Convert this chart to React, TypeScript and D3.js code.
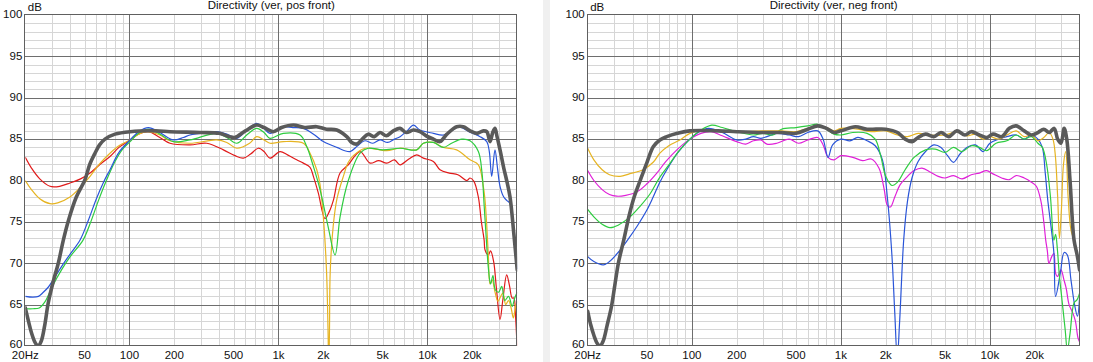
import React from 'react';
import * as d3 from 'd3';

type Pt = [number, number];

// ---- axis ticks ----
const freqTicks = [20, 50, 100, 200, 500, 1000, 2000, 5000, 10000, 20000];
const freqTickLabels = ['20Hz', '50', '100', '200', '500', '1k', '2k', '5k', '10k', '20k'];
const dbTicks = [100, 95, 90, 85, 80, 75, 70, 65, 60];
const titles = ['Directivity (ver, pos front)', 'Directivity (ver, neg front)'];

// ---- left panel (pos front) ----
const posGray: Pt[] = [[20,64.6],[21,63],[22,61.6],[23.3,60.4],[24.4,60],[25.6,60.6],[27,62.5],[28.5,65.2],[30.8,67.8],[33.3,70],[36,72.8],[39,75.2],[44,78],[50.3,80.1],[54,81.9],[58.7,83.3],[63,84.3],[68.5,85],[80,85.6],[101,85.9],[150,86],[187,85.9],[300,85.8],[400,85.7],[470,85.3],[510,85.2],[600,86],[714,86.7],[800,86.4],[923,85.9],[1050,86.4],[1259,86.7],[1500,86.4],[1807,86.5],[2100,86.2],[2461,86.1],[2871,85.3],[3100,84.6],[3350,84.4],[3650,85],[4000,85.6],[4400,85.3],[4800,85.8],[5300,85.4],[5900,86],[6546,86.3],[7200,85.8],[8040,86.1],[8912,85.9],[9800,85.4],[10950,85],[12130,84.7],[13500,85.6],[15700,86.5],[17400,86.5],[19300,86],[21400,85.7],[23700,86],[25000,85.9],[26300,84.7],[27400,85.8],[28370,86.3],[29300,85.3],[30680,83.7],[32500,81.5],[34000,80],[35800,78],[38000,73.5],[40000,69.2]];
const posBlue: Pt[] = [[20,66],[22.5,65.9],[24.5,66],[26.1,66.4],[28.5,67.1],[30.8,68],[35,69.6],[40,71.1],[46.6,72.8],[53,75.2],[60,77.8],[67,79.8],[74,81.3],[85,83.4],[101,84.9],[115,85.9],[134,86.4],[160,85.8],[197,84.9],[230,85.2],[255,85.5],[330,85.8],[385,85.9],[450,85.6],[525,85.1],[620,86.2],[714,86.9],[790,86.4],[877,85.7],[1078,86.5],[1250,86.4],[1469,86.3],[1750,85.5],[2000,84.7],[2461,84],[3021,83.5],[3400,84.2],[3800,84.8],[4300,84.5],[4800,84.9],[5400,84.6],[6000,85],[6546,85.3],[7300,86],[8040,86.7],[8912,86.1],[10950,85.7],[12770,85.5],[14500,86],[16100,86.5],[19000,85.9],[22540,85.3],[25000,84.7],[26000,83.5],[26970,80.5],[28370,83.7],[29500,81.5],[30680,79.3],[32500,78],[34000,77.6],[35800,77.2],[38000,73],[40000,69.3]];
const posGreen: Pt[] = [[20,64.5],[22.5,64.5],[24.8,64.6],[27,65.3],[28.5,66.1],[30.8,67.4],[35,69.2],[40,70.8],[48.8,72.8],[55,75],[62,77.6],[70,80],[80,82.3],[90,83.8],[101,84.7],[115,85.7],[135,86.2],[160,85.6],[197,84.7],[255,84.9],[385,85.7],[450,85.2],[525,84.5],[620,85.6],[714,86.3],[800,85.8],[877,85.1],[1078,85.7],[1396,85.5],[1548,84.1],[1715,81.7],[1901,78.9],[2150,74.5],[2398,71],[2590,75.6],[2943,80],[3525,83.3],[4000,83.9],[5000,83.7],[6546,83.9],[8470,83.7],[9380,84.5],[10950,84.6],[12770,84],[14500,84.5],[17000,85],[19300,84.8],[21950,83.5],[23200,81],[24000,77],[24800,73],[25600,69.5],[26500,67.5],[27500,68.5],[28500,66.8],[30000,66.5],[31500,67.2],[33000,65.5],[35000,66],[37000,64.8],[38500,65.8],[40000,66.5]];
const posGold: Pt[] = [[20,80],[22,78.9],[25,77.8],[29.3,77.2],[33,77.3],[39.9,78],[47,79.2],[54.4,80.5],[63,82],[74,83.3],[85,84.2],[101,84.9],[115,85.6],[130,85.9],[160,85.5],[187,84.8],[255,84.5],[385,84.9],[450,84.6],[525,83.9],[640,84.5],[714,85.3],[800,84.9],[877,84.5],[1078,84.7],[1469,84.5],[1629,83.3],[1807,81.3],[1901,79.5],[2000,75.6],[2100,69.2],[2150,62],[2175,57],[2200,62],[2225,69],[2330,74.5],[2470,77.8],[2725,80.5],[2943,82.2],[3180,83],[3810,83.9],[4500,83.8],[5330,83.6],[6546,83.9],[8470,83.7],[9380,84.5],[10950,84.6],[12770,84],[15700,83.7],[19300,82.5],[21950,81.9],[23700,79.3],[24340,77.6],[25000,74.5],[25600,71],[26300,67.5],[27200,68],[28400,66.5],[29700,65.4],[31000,66],[32100,66.4],[33500,65],[35000,65.5],[36500,64.5],[37700,63.4],[39000,64.8],[40000,65.4]];
const posRed: Pt[] = [[20,82.8],[22,81.5],[25,80.2],[29.3,79.3],[34,79.3],[39.9,79.7],[47,80.2],[54.4,80.9],[63,81.9],[74,82.9],[85,84],[101,84.9],[115,85.6],[134,85.9],[160,85.2],[187,84.5],[255,84.3],[330,84.5],[427,83.7],[510,83],[581,82.7],[650,83.2],[733,83.9],[800,83.5],[877,82.7],[1024,83.5],[1150,83.1],[1325,82.5],[1469,82.1],[1629,81.6],[1715,80.5],[1850,78.5],[2052,75.4],[2200,76.3],[2335,77.6],[2590,80.9],[2943,81.9],[3525,83.5],[4115,82.1],[4700,82.4],[5330,82.1],[6000,82.5],[6546,81.9],[7500,82.6],[8470,83.1],[9380,82.7],[10950,82.3],[12130,81.3],[14000,80.9],[16000,80.7],[18400,80],[19300,80.3],[20500,79.9],[21950,78],[23000,75],[24000,72.8],[24340,71.6],[25600,71],[26500,71.5],[27800,70.2],[29000,67],[30680,63.2],[32000,65.5],[34000,68.6],[35500,67.3],[37000,65.8],[38000,65.8],[39000,63.5],[40000,59.5]];

// ---- right panel (neg front) ----
const negGray: Pt[] = [[20,64.2],[21,62.5],[22,61.3],[23.2,60.3],[24.2,60],[25.4,60.6],[27,62.5],[28.9,64.8],[30.5,67.5],[32.2,70.1],[34.9,72.8],[38,75.8],[41,78],[45,80],[50,82.2],[55.2,84.1],[61,84.9],[67.9,85.3],[80,85.7],[97,86],[150,86],[200,85.9],[300,85.8],[400,85.8],[500,85.7],[600,86.2],[700,86.6],[800,86.3],[900,85.8],[1000,86],[1250,86.5],[1500,86.2],[2000,86.2],[2400,85.8],[2700,85],[3000,84.7],[3300,85.2],[3700,85.6],[4200,85.3],[4700,85.8],[5300,85.3],[6000,86],[6800,85.5],[7500,85.9],[8500,85.5],[9500,85.2],[10500,85.6],[12000,85.3],[13500,86.3],[15000,86.6],[17000,86],[19000,85.5],[21000,85.8],[23000,86.2],[25000,85.8],[27000,86.3],[28500,85],[30000,84.5],[31500,86.3],[32800,85],[34500,80],[36700,72.8],[38500,71],[40000,69.2]];
const negGold: Pt[] = [[20,83.9],[22,82.5],[25,81.3],[28,80.7],[33,80.5],[38,80.8],[47,81.3],[55,82.2],[61,83.3],[70,84.2],[83,84.9],[97,85.7],[120,86.1],[150,86],[200,85.9],[300,86],[400,86],[500,85.9],[600,86.3],[700,86.6],[800,86.4],[900,86],[1000,86.3],[1300,86.2],[1600,85.9],[2000,86],[2400,85.5],[2800,85.3],[3300,85.7],[4000,85.5],[5000,85.5],[6000,85.9],[7000,85.4],[8000,85.6],[9000,85],[10000,85.3],[11500,85],[13000,85.5],[15000,86],[17000,85.3],[19000,85.5],[21000,84.8],[23000,85.2],[25000,85.8],[26500,85],[27500,83],[28500,78],[29300,73],[30200,76.5],[31200,82],[32300,83.5],[33500,78],[35000,74],[36700,72.8],[38500,71.2],[40000,69.8]];
const negGreen: Pt[] = [[20,76.5],[22,75.6],[25,74.7],[28.2,74.3],[32,74.6],[38.5,75.6],[45,76.9],[52.5,78.4],[60,80.2],[71.5,82.1],[83,83.7],[97,85],[115,86.1],[136,86.7],[160,86.4],[200,85.9],[259,85.5],[300,85.7],[350,85.5],[400,86.2],[500,86.4],[600,86.6],[700,86.8],[800,86.2],[900,85.6],[1000,85.5],[1200,85.8],[1500,85.7],[1700,85],[1850,83],[2000,80.5],[2200,79.4],[2400,79.8],[2700,81.3],[3100,82.8],[3700,83.7],[4300,83.8],[5000,83.4],[5700,84],[6500,83.5],[7500,84.2],[8500,84],[9500,83.6],[11000,84.5],[13000,84.8],[15000,85.5],[17000,85],[19000,85.3],[21000,84.5],[22500,84],[24000,82],[25500,78],[26900,72.8],[27600,73.5],[28400,71.6],[29200,68.7],[30500,65.5],[32000,62],[33100,59.5],[34500,61.5],[36700,65.2],[38500,65.6],[40000,66.4]];
const negBlue: Pt[] = [[20,70.8],[22,70.2],[25.5,69.8],[28,70.2],[32,71.3],[37,72.8],[43,74.5],[49.8,76.4],[55,78],[61,79.8],[67.9,81.3],[80,83.3],[97,85],[110,85.8],[129,86.3],[160,85.8],[200,84.9],[230,85],[259,85.3],[290,85.1],[319,85.3],[372,85.7],[450,85.5],[520,85.3],[600,85.8],[700,86],[760,85],[820,82.8],[880,84.3],[1000,85],[1150,84.8],[1300,85.2],[1500,84.8],[1700,84.2],[1900,82.5],[2050,78],[2200,71],[2300,64],[2390,58.5],[2480,63],[2640,72.8],[2800,77.5],[3000,80.3],[3300,82.3],[3700,83.5],[4200,84.3],[4700,84],[5200,83],[5700,82.2],[6300,83.2],[7000,84],[8000,84.3],[9000,83.5],[10000,84.5],[11500,85],[13000,85.3],[15000,85.5],[17000,85],[19000,85.5],[21000,85],[22500,84],[23500,81],[24500,77.5],[25500,75],[26900,71.2],[27600,66],[29700,68.8],[31500,71.3],[33100,71],[35000,68],[37000,65],[38700,63.6],[40000,66]];
const negMagenta: Pt[] = [[20,81.2],[22,80],[25,78.9],[28,78.3],[31.3,78.1],[36,78.2],[42.7,78.6],[50,79.6],[58.2,80.9],[67,82.3],[79.3,83.7],[97,85],[115,85.7],[135,85.9],[160,85.4],[200,84.7],[230,84.4],[259,84.8],[290,84.9],[319,84.4],[372,84.5],[450,85],[520,84.5],[600,84.9],[700,85.2],[760,84.3],[820,82.8],[900,82.5],[1000,83],[1200,82.8],[1400,82.4],[1600,82.6],[1800,81.5],[1950,79],[2050,77],[2150,76.8],[2300,78],[2500,79.5],[2800,80.5],[3100,81.2],[3500,81.5],[4000,81],[4500,80.5],[5000,80.3],[5700,80.6],[6500,80.2],[7500,80.7],[8500,80.9],[9500,81.2],[10500,80.8],[12000,80.3],[13500,80.1],[15000,80.6],[17000,80.3],[19000,79.8],[20500,79.3],[22000,77.5],[23000,75],[23700,72.8],[24300,71.5],[24900,70],[26000,70.8],[26900,71.2],[27600,68.8],[28400,68.4],[30000,69.2],[31400,68],[32500,67],[34000,65],[36000,64],[37500,63],[39000,61],[40000,60.5]];

const COLORS = {
  gray: '#5a5a5a',
  blue: '#2a55d8',
  green: '#2ecc40',
  gold: '#e6b422',
  red: '#e01a1a',
  magenta: '#e020d8',
};

const posSeries = [
  { data: posRed, color: COLORS.red },
  { data: posGold, color: COLORS.gold },
  { data: posGreen, color: COLORS.green },
  { data: posBlue, color: COLORS.blue },
];
const negSeries = [
  { data: negMagenta, color: COLORS.magenta },
  { data: negBlue, color: COLORS.blue },
  { data: negGreen, color: COLORS.green },
  { data: negGold, color: COLORS.gold },
];

const W = 1093;
const H = 362;
const TOP = 15;
const BOTTOM = 346;
const FONT = '"Liberation Sans", Arial, sans-serif';

function Panel({ x0, x1, title, series, gray, id }: { x0: number; x1: number; title: string; series: { data: Pt[]; color: string }[]; gray: Pt[]; id: string }) {
  const x = d3.scaleLog().domain([20, 40000]).range([x0, x1]);
  const y = d3.scaleLinear().domain([60, 100]).range([BOTTOM, TOP]);
  const line = d3
    .line<Pt>()
    .x((d) => x(d[0]))
    .y((d) => y(d[1]))
    .curve(d3.curveCatmullRom.alpha(0.5));

  const minorV: number[] = [];
  const majorV: number[] = [];
  [10, 100, 1000, 10000].forEach((dec) => {
    for (let m = 1; m <= 9; m++) {
      const f = m * dec;
      if (f <= 20 || f >= 40000) continue;
      if (m === 1) majorV.push(f);
      else minorV.push(f);
    }
  });
  const minorH: number[] = [];
  const majorH: number[] = [];
  for (let v = 61; v < 100; v++) {
    if (v % 5 === 0) majorH.push(v);
    else minorH.push(v);
  }
  const snap = (v: number) => Math.round(v) + 0.5;

  return (
    <g>
      <defs>
        <clipPath id={id}>
          <rect x={x0} y={TOP} width={x1 - x0} height={BOTTOM - TOP} />
        </clipPath>
      </defs>
      <rect x={x0} y={TOP} width={x1 - x0} height={BOTTOM - TOP} fill="#ffffff" />
      <g shapeRendering="crispEdges">
        {minorH.map((v) => (
          <line key={'mh' + v} x1={x0} x2={x1} y1={snap(y(v))} y2={snap(y(v))} stroke="#d6d6d6" strokeWidth={1} />
        ))}
        {minorV.map((f) => (
          <line key={'mv' + f} x1={snap(x(f))} x2={snap(x(f))} y1={TOP} y2={BOTTOM} stroke="#d6d6d6" strokeWidth={1} />
        ))}
        {majorH.map((v) => (
          <line key={'Mh' + v} x1={x0} x2={x1} y1={snap(y(v))} y2={snap(y(v))} stroke="#6e6e6e" strokeWidth={1} />
        ))}
        {majorV.map((f) => (
          <line key={'Mv' + f} x1={snap(x(f))} x2={snap(x(f))} y1={TOP} y2={BOTTOM} stroke="#6e6e6e" strokeWidth={1} />
        ))}
      </g>
      <g clipPath={`url(#${id})`} fill="none">
        {series.map((s, i) => (
          <path key={i} d={line(s.data) || ''} stroke={s.color} strokeWidth={1.2} strokeLinejoin="round" />
        ))}
        <path d={line(gray) || ''} stroke={COLORS.gray} strokeWidth={3.6} strokeLinejoin="round" strokeLinecap="round" />
      </g>
      <rect x={snap(x0) - 1} y={snap(TOP) - 1} width={Math.round(x1 - x0)} height={Math.round(BOTTOM - TOP)} fill="none" stroke="#606060" strokeWidth={1} shapeRendering="crispEdges" />
      <g fontFamily={FONT} fontSize={11.5} fill="#111">
        {dbTicks.map((v) => (
          <text key={'yt' + v} x={x0 - 3} y={y(v) + (v === 60 ? 2 : 3.3)} textAnchor="end">
            {v}
          </text>
        ))}
        {freqTicks.map((f, i) => (
          <text key={'xt' + f} x={x(f)} y={359} textAnchor="middle">
            {freqTickLabels[i]}
          </text>
        ))}
        <text x={x0 + 2.5} y={11}>dB</text>
        <text x={(x0 + x1) / 2} y={9} textAnchor="middle">
          {title}
        </text>
      </g>
    </g>
  );
}

export default function App() {
  return (
    <svg width={W} height={H} viewBox={`0 0 ${W} ${H}`} style={{ position: 'absolute', left: 0, top: 0, background: '#fff' }}>
      <rect x={0} y={0} width={W} height={H} fill="#ffffff" />
      <rect x={543} y={0} width={7} height={H} fill="#f0f0f0" />
      <Panel x0={25.3} x1={517.2} title={titles[0]} series={posSeries} gray={posGray} id="clipPos" />
      <Panel x0={587.7} x1={1079.6} title={titles[1]} series={negSeries} gray={negGray} id="clipNeg" />
    </svg>
  );
}
